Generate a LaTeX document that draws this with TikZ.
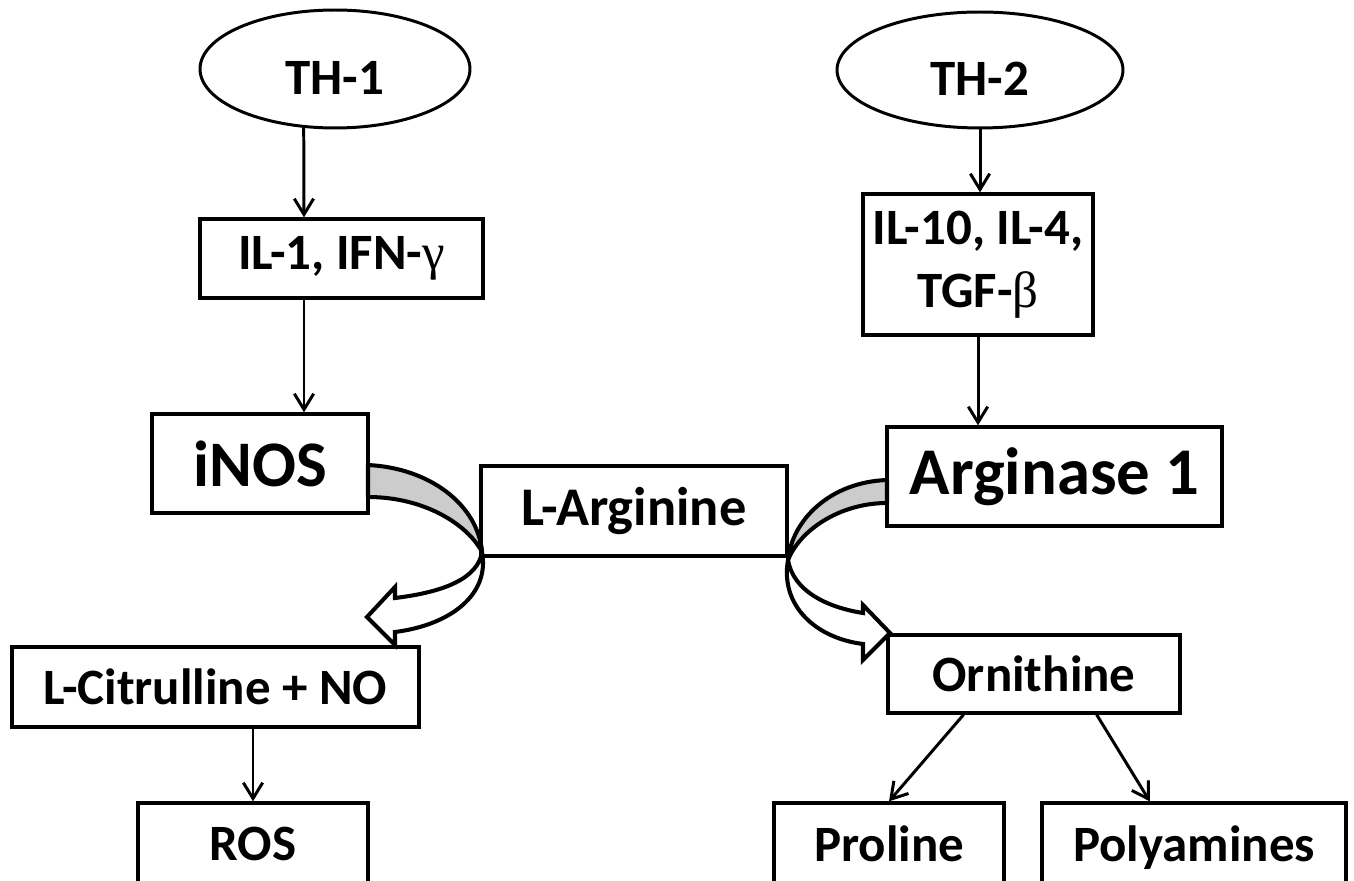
\documentclass[tikz,border=0pt]{standalone}
\usepackage{fontspec}
\setmainfont{Carlito}
\newfontfamily\grk{Liberation Serif}
\usetikzlibrary{shapes.geometric,arrows.meta}

\begin{document}
\begin{tikzpicture}[
		x=0.02cm, y=-0.02cm,
		box/.style = {draw, line width=1.9pt, fill=white, inner sep=0pt,
			font=\bfseries\fontsize{29}{36}\selectfont},
		oval/.style = {box, ellipse, line width=1.7pt},
		link/.style = {line width=1.7pt, -{Straight Barb[length=9pt,width=11pt,line width=1.7pt]}},
		band/.style = {line width=2.3pt, fill=gray!40, line join=round},
		hollow/.style = {line width=2.3pt, fill=white, line join=miter}
	]
	\useasboundingbox (0,0) rectangle (1354,881);
	\clip (0,0) rectangle (1354,881);

	% top row
	\node[oval, minimum width=5.40cm, minimum height=2.36cm] (th1) at (335,69) {\raisebox{-5pt}[\height][0pt]{TH-1}};
	\node[oval, minimum width=5.72cm, minimum height=2.32cm] (th2) at (980,70) {\raisebox{-5pt}[\height][0pt]{TH-2}};

	% cytokines
	\node[box, minimum width=5.66cm, minimum height=1.58cm] (il1) at (341.5,258.5) {IL-1, IFN-{\grk\mdseries γ}};
	\node[box, align=center, minimum width=4.60cm, minimum height=2.82cm] (il10) at (978,264.5) {IL-10, IL-4,\\TGF-{\grk\mdseries β}};

	% enzymes
	\node[box, minimum width=4.32cm, minimum height=1.98cm, font=\bfseries\fontsize{37}{40}\selectfont] (inos) at (260,463.5) {iNOS};
	\node[box, minimum width=6.12cm, minimum height=1.80cm, font=\bfseries\fontsize{31}{36}\selectfont] (larg) at (634,511) {L-Arginine};
	\node[box, minimum width=6.70cm, minimum height=1.98cm, font=\bfseries\fontsize{38}{40}\selectfont] (arg) at (1054.5,476.5) {Arginase 1};

	% products
	\node[box, minimum width=8.14cm, minimum height=1.60cm] (citr) at (215.5,687) {L-Citrulline + NO};
	\node[box, minimum width=4.60cm, minimum height=1.64cm] (ros) at (253,844) {ROS};
	\node[box, minimum width=5.84cm, minimum height=1.56cm] (orn) at (1034,674) {Ornithine};
	\node[box, minimum width=4.60cm, minimum height=1.64cm] (pro) at (889,844) {Proline};
	\node[box, minimum width=6.08cm, minimum height=1.64cm, text depth=0pt] (poly) at (1194,844) {Polyamines};

	\coordinate (lx) at (304,0);
	\draw[link] (th1.-118) -- (il1.north -| lx);
	\draw[link] (il1.south -| lx) -- (inos.north -| lx);
	\draw[link] (th2.south) -- (th2.south |- il10.north);
	\draw[link] (il10.south) -- (il10.south |- arg.north);
	\draw[link] (ros.north |- citr.south) -- (ros.north);
	\draw[link] (orn.-150) -- (pro.north);
	\draw[link] (orn.-33.5) -- (poly.136);

	% curved arrows round L-Arginine
	\draw[band] (368,465) .. controls (430,468) and (478,505) .. (482,552)
		.. controls (468,525) and (425,497) .. (368,497) -- cycle;
	\draw[hollow] (482,552) .. controls (478,578) and (445,592) .. (395,598)
		-- (395,587) -- (367,617) -- (395,645) -- (395,632)
		.. controls (450,625) and (490,595) .. (482,552) -- cycle;
	\draw[band] (887,480) .. controls (830,482) and (792,520) .. (788,560)
		.. controls (800,530) and (840,503) .. (887,503) -- cycle;
	\draw[hollow] (788,560) .. controls (793,590) and (825,607) .. (863,613)
		-- (863,605) -- (890,633) -- (863,660) -- (863,644)
		.. controls (815,638) and (780,605) .. (788,560) -- cycle;
\end{tikzpicture}
\end{document}
